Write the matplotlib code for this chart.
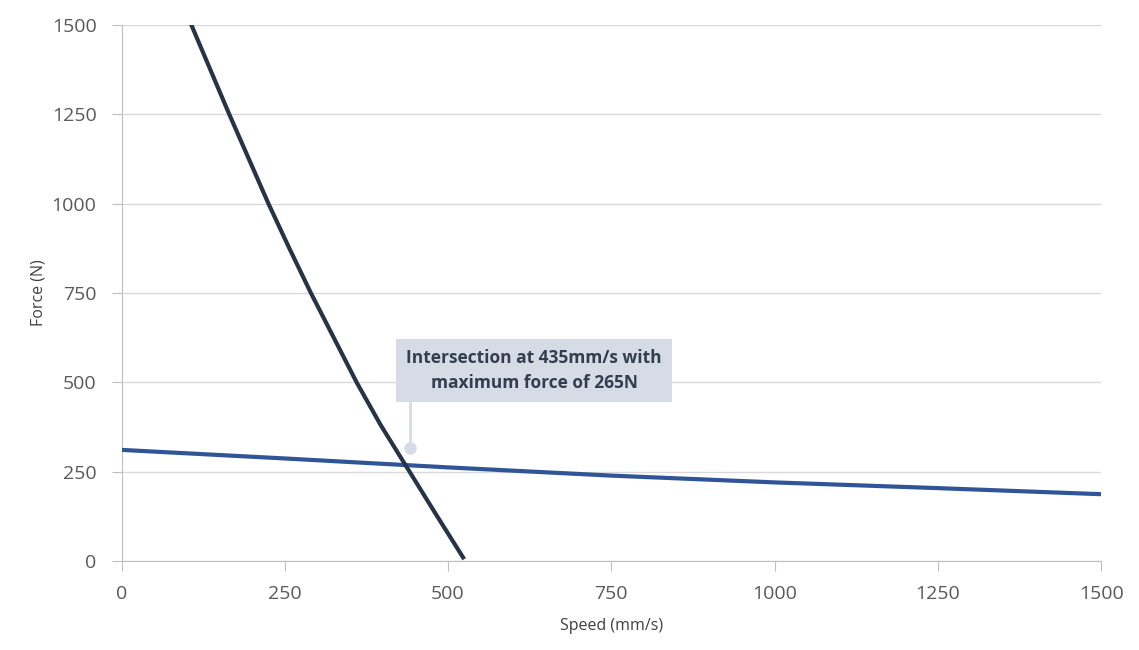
import matplotlib
matplotlib.use("Agg")
import matplotlib.pyplot as plt

# datos
speed_motor = [0, 250, 500, 750, 1000, 1250, 1500]
force_motor = [311, 287, 262, 239, 220, 204, 187]

speed_load = [107, 136, 165, 195, 225, 257, 290, 325, 360, 397, 436, 479, 523]
force_load = [1500, 1375, 1250, 1125, 1000, 875, 750, 625, 500, 380, 265, 138, 10]

x_ticks = [0, 250, 500, 750, 1000, 1250, 1500]
y_ticks = [0, 250, 500, 750, 1000, 1250, 1500]

plt.rcParams['font.family'] = ['Open Sans', 'DejaVu Sans']

fig = plt.figure(figsize=(11.39, 6.5), dpi=100)
ax = fig.add_axes([0.1067, 0.1369, 0.86, 0.8246])

ax.plot(speed_motor, force_motor, color="#2f5597", linewidth=3, zorder=3)
ax.plot(speed_load, force_load, color="#263445", linewidth=3, zorder=4,
        solid_joinstyle="round")

ax.set_xlim(0, 1500)
ax.set_ylim(0, 1500)
ax.set_xticks(x_ticks)
ax.set_yticks(y_ticks)
ax.grid(True, axis="y", color="#d9d9d9", linewidth=1)
ax.set_axisbelow(True)

for s in ["top", "right"]:
    ax.spines[s].set_visible(False)
ax.spines["left"].set_color("#bfbfbf")
ax.spines["bottom"].set_color("#bfbfbf")
ax.tick_params(axis="both", colors="#bfbfbf", length=7, labelsize=14, labelcolor="#595959")
ax.tick_params(axis="x", pad=10)
ax.tick_params(axis="y", pad=11)

ax.set_xlabel("Speed (mm/s)", fontsize=11.5, color="#404040", labelpad=11)
ax.set_ylabel("Force (N)", fontsize=11.5, color="#404040", labelpad=4)

# anotacion de la interseccion
ax.plot([442, 442], [316, 450], color="#d6dce5", linewidth=2, zorder=2)
ax.plot([442], [316], "o", color="#d6dce5", markersize=8, zorder=2)
ax.text(632, 533, "Intersection at 435mm/s with\nmaximum force of 265N",
        ha="center", va="center", fontsize=12.5, fontweight="bold", color="#333f50",
        linespacing=1.45,
        bbox=dict(boxstyle="square,pad=0.6", facecolor="#d6dce5", edgecolor="none"),
        zorder=5)

plt.savefig("out.png", dpi=100)
plt.close()
